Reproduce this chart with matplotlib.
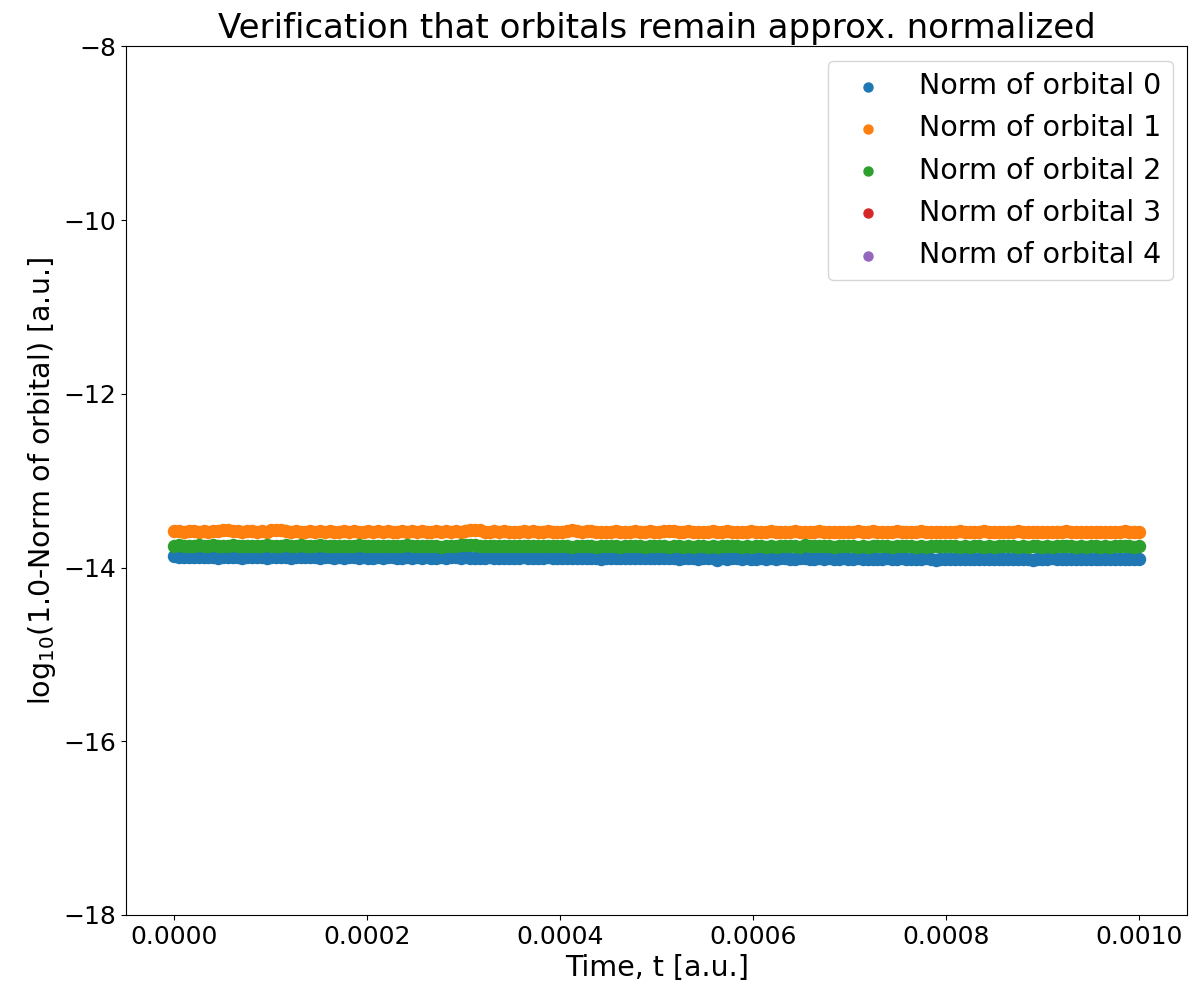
import numpy as np
import matplotlib
matplotlib.use("Agg")
import matplotlib.pyplot as plt

# log10(1 - norm) sampled on a regular time grid
time = np.linspace(0.0, 0.001, 200)

norm_dev_0 = [
    -13.872, -13.878, -13.875, -13.881, -13.874, -13.879, -13.884, -13.876, -13.880, -13.886,
    -13.877, -13.882, -13.876, -13.880, -13.885, -13.878, -13.883, -13.877, -13.881, -13.886,
    -13.878, -13.883, -13.877, -13.881, -13.885, -13.879, -13.882, -13.876, -13.884, -13.880,
    -13.886, -13.881, -13.879, -13.885, -13.882, -13.888, -13.880, -13.884, -13.887, -13.881,
    -13.885, -13.889, -13.883, -13.886, -13.880, -13.884, -13.890, -13.885, -13.882, -13.888,
    -13.884, -13.887, -13.881, -13.885, -13.889, -13.883, -13.886, -13.880, -13.884, -13.888,
    -13.884, -13.887, -13.891, -13.885, -13.889, -13.883, -13.887, -13.892, -13.886, -13.889,
    -13.885, -13.889, -13.883, -13.887, -13.891, -13.886, -13.889, -13.884, -13.888, -13.892,
    -13.893, -13.887, -13.890, -13.895, -13.889, -13.892, -13.888, -13.893, -13.897, -13.890,
    -13.886, -13.890, -13.894, -13.888, -13.892, -13.887, -13.891, -13.895, -13.889, -13.893,
    -13.894, -13.889, -13.896, -13.892, -13.898, -13.893, -13.890, -13.896, -13.899, -13.894,
    -13.891, -13.895, -13.912, -13.893, -13.897, -13.892, -13.896, -13.900, -13.894, -13.898,
    -13.897, -13.892, -13.899, -13.895, -13.901, -13.896, -13.893, -13.899, -13.902, -13.896,
    -13.893, -13.897, -13.901, -13.895, -13.899, -13.894, -13.898, -13.902, -13.896, -13.900,
    -13.900, -13.895, -13.902, -13.897, -13.903, -13.898, -13.901, -13.896, -13.903, -13.899,
    -13.895, -13.899, -13.903, -13.897, -13.901, -13.896, -13.900, -13.914, -13.898, -13.902,
    -13.902, -13.897, -13.904, -13.900, -13.898, -13.903, -13.899, -13.901, -13.904, -13.900,
    -13.897, -13.901, -13.905, -13.899, -13.903, -13.898, -13.902, -13.916, -13.900, -13.904,
    -13.901, -13.896, -13.903, -13.899, -13.905, -13.900, -13.902, -13.897, -13.904, -13.901,
    -13.898, -13.902, -13.905, -13.900, -13.903, -13.899, -13.904, -13.901, -13.905, -13.902,
]

norm_dev_1 = [
    -13.585, -13.582, -13.588, -13.579, -13.584, -13.586, -13.583, -13.587, -13.581, -13.585,
    -13.570, -13.566, -13.575, -13.583, -13.586, -13.584, -13.580, -13.587, -13.583, -13.586,
    -13.572, -13.568, -13.571, -13.585, -13.587, -13.584, -13.589, -13.586, -13.583, -13.588,
    -13.585, -13.590, -13.584, -13.586, -13.588, -13.583, -13.587, -13.585, -13.589, -13.586,
    -13.584, -13.587, -13.583, -13.588, -13.585, -13.589, -13.586, -13.584, -13.588, -13.585,
    -13.587, -13.584, -13.589, -13.586, -13.583, -13.588, -13.585, -13.587, -13.584, -13.589,
    -13.574, -13.567, -13.565, -13.572, -13.586, -13.588, -13.584, -13.587, -13.585, -13.589,
    -13.586, -13.588, -13.585, -13.587, -13.584, -13.589, -13.586, -13.583, -13.588, -13.586,
    -13.586, -13.576, -13.571, -13.584, -13.587, -13.585, -13.580, -13.588, -13.586, -13.589,
    -13.587, -13.585, -13.588, -13.586, -13.590, -13.584, -13.587, -13.589, -13.585, -13.588,
    -13.586, -13.578, -13.574, -13.585, -13.589, -13.587, -13.584, -13.588, -13.586, -13.590,
    -13.587, -13.585, -13.589, -13.586, -13.583, -13.588, -13.586, -13.589, -13.587, -13.585,
    -13.588, -13.586, -13.589, -13.585, -13.587, -13.590, -13.586, -13.588, -13.585, -13.587,
    -13.589, -13.586, -13.588, -13.585, -13.587, -13.589, -13.586, -13.588, -13.587, -13.586,
    -13.588, -13.585, -13.589, -13.587, -13.584, -13.588, -13.586, -13.590, -13.587, -13.585,
    -13.587, -13.589, -13.586, -13.588, -13.585, -13.587, -13.589, -13.586, -13.588, -13.587,
    -13.586, -13.588, -13.585, -13.589, -13.587, -13.586, -13.588, -13.585, -13.587, -13.589,
    -13.588, -13.586, -13.589, -13.587, -13.585, -13.588, -13.586, -13.589, -13.587, -13.586,
    -13.587, -13.589, -13.586, -13.588, -13.585, -13.587, -13.589, -13.586, -13.588, -13.587,
    -13.586, -13.588, -13.587, -13.589, -13.586, -13.588, -13.585, -13.587, -13.588, -13.586,
]

norm_dev_2 = [
    -13.752, -13.745, -13.758, -13.748, -13.755, -13.742, -13.750, -13.757, -13.746, -13.753,
    -13.749, -13.756, -13.744, -13.751, -13.758, -13.747, -13.754, -13.750, -13.757, -13.745,
    -13.752, -13.748, -13.755, -13.743, -13.750, -13.757, -13.746, -13.753, -13.749, -13.756,
    -13.744, -13.751, -13.747, -13.754, -13.748, -13.755, -13.750, -13.757, -13.746, -13.753,
    -13.749, -13.756, -13.751, -13.758, -13.747, -13.754, -13.750, -13.757, -13.745, -13.752,
    -13.748, -13.755, -13.750, -13.757, -13.753, -13.759, -13.751, -13.756, -13.752, -13.746,
    -13.741, -13.736, -13.739, -13.748, -13.754, -13.750, -13.757, -13.752, -13.758, -13.749,
    -13.755, -13.751, -13.757, -13.753, -13.748, -13.755, -13.751, -13.758, -13.754, -13.750,
    -13.756, -13.752, -13.759, -13.755, -13.750, -13.757, -13.753, -13.759, -13.754, -13.751,
    -13.757, -13.753, -13.760, -13.755, -13.751, -13.758, -13.754, -13.760, -13.756, -13.752,
    -13.758, -13.754, -13.760, -13.756, -13.752, -13.759, -13.755, -13.761, -13.757, -13.753,
    -13.759, -13.755, -13.761, -13.756, -13.752, -13.758, -13.754, -13.760, -13.756, -13.762,
    -13.757, -13.753, -13.759, -13.755, -13.761, -13.756, -13.752, -13.758, -13.754, -13.760,
    -13.745, -13.750, -13.756, -13.752, -13.758, -13.754, -13.760, -13.755, -13.751, -13.757,
    -13.753, -13.759, -13.755, -13.761, -13.756, -13.752, -13.758, -13.754, -13.760, -13.756,
    -13.751, -13.757, -13.753, -13.759, -13.755, -13.761, -13.756, -13.752, -13.758, -13.755,
    -13.758, -13.754, -13.760, -13.756, -13.762, -13.757, -13.753, -13.759, -13.755, -13.761,
    -13.756, -13.752, -13.758, -13.754, -13.760, -13.756, -13.762, -13.757, -13.753, -13.759,
    -13.755, -13.761, -13.756, -13.752, -13.758, -13.754, -13.760, -13.756, -13.762, -13.757,
    -13.753, -13.759, -13.755, -13.761, -13.756, -13.752, -13.758, -13.754, -13.760, -13.756,
]

# orbitals 3 and 4 stay exactly normalized, nothing finite to plot
norm_dev_3 = []
norm_dev_4 = []

series = [norm_dev_0, norm_dev_1, norm_dev_2, norm_dev_3, norm_dev_4]

plt.rcParams["font.family"] = "DejaVu Sans"
fig, ax = plt.subplots(figsize=(11.91, 9.88), dpi=100)
fig.subplots_adjust(left=0.106, right=0.997, top=0.953, bottom=0.074)

for i, vals in enumerate(series):
    t = time[:len(vals)]
    ax.scatter(t, vals, s=75, color=f"C{i}", label=f"Norm of orbital {i}")

ax.set_ylim(-18, -8)
ax.set_yticks([-18, -16, -14, -12, -10, -8])
ax.set_xticks([0.0, 0.0002, 0.0004, 0.0006, 0.0008, 0.001])
ax.set_xticklabels(["0.0000", "0.0002", "0.0004", "0.0006", "0.0008", "0.0010"])
ax.set_xlim(-0.00005, 0.00105)
ax.tick_params(labelsize=18)

ax.set_title("Verification that orbitals remain approx. normalized", fontsize=24.5)
ax.set_xlabel("Time, t [a.u.]", fontsize=20.5)
ax.set_ylabel(r"log$_{10}$(1.0-Norm of orbital) [a.u.]", fontsize=20.5)
ax.legend(fontsize=20.5, markerscale=0.75)

fig.savefig("out.png", dpi=100)
